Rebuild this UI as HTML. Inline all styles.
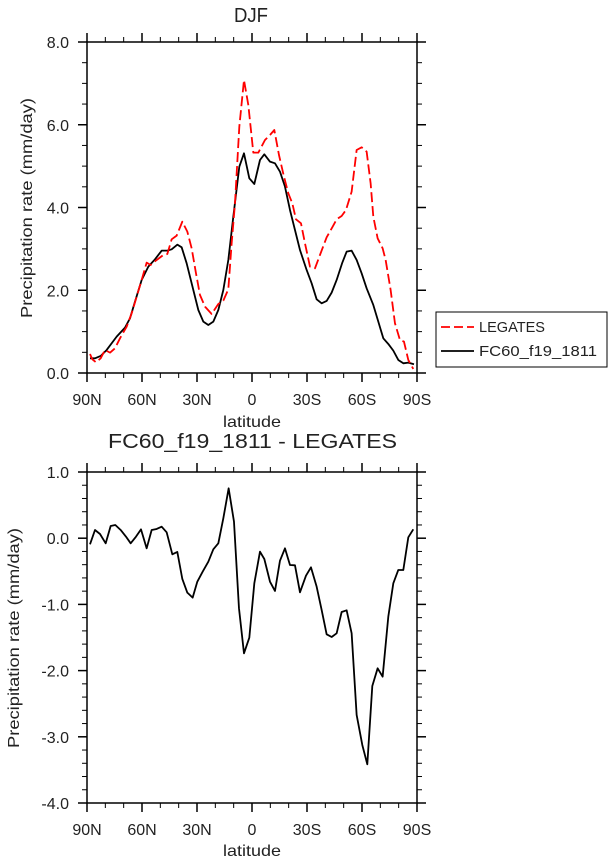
<!DOCTYPE html>
<html><head><meta charset="utf-8"><style>
body{margin:0;background:#fff}
svg{display:block}
text{font-family:"Liberation Sans",sans-serif;fill:#222}
</style></head><body>
<svg id="s" width="614" height="862" xmlns="http://www.w3.org/2000/svg">
<rect width="614" height="862" fill="#fff"/>
<text x="234" y="22" font-size="20" textLength="34" lengthAdjust="spacingAndGlyphs">DJF</text>
<text x="108" y="448" font-size="20" textLength="289" lengthAdjust="spacingAndGlyphs">FC60_f19_1811 - LEGATES</text>
<text x="223" y="427" font-size="16" textLength="58" lengthAdjust="spacingAndGlyphs">latitude</text>
<text x="223" y="856" font-size="16" textLength="58" lengthAdjust="spacingAndGlyphs">latitude</text>
<text transform="translate(32,208) rotate(-90)" font-size="16" text-anchor="middle" textLength="220" lengthAdjust="spacingAndGlyphs">Precipitation rate (mm/day)</text>
<text transform="translate(19,638) rotate(-90)" font-size="16" text-anchor="middle" textLength="220" lengthAdjust="spacingAndGlyphs">Precipitation rate (mm/day)</text>
<g id="ticks" stroke="#000" fill="none"></g>
<g transform="translate(80,30) scale(0.3333)" fill="none" stroke-width="5.4" stroke-linejoin="round">
<polyline stroke="#000" points="30,985 45,985 62,978 80,960 110,920 135,893 150,865 165,815 185,750 205,710 225,688 245,662 262,662 275,658 292,644 305,652 320,700 340,780 355,840 370,875 385,885 400,875 415,840 430,780 445,690 460,560 478,410 492,370 508,445 523,462 540,390 553,373 570,395 585,400 600,425 615,470 630,540 645,600 660,660 680,720 695,760 710,808 725,820 740,813 755,788 770,750 787,698 800,665 815,662 830,690 845,730 860,775 880,825 895,875 910,925 925,942 940,962 955,990 970,1000 985,998 1002,1003"/>
<polyline stroke="#f00" stroke-dasharray="30,12" points="30,972 37,988 48,997 62,985 75,960 90,968 105,955 120,925 140,890 155,850 170,800 185,750 200,698 212,705 230,690 250,675 262,672 275,628 290,617 307,575 322,605 335,655 348,730 360,795 375,830 395,852 415,822 430,812 445,778 455,640 465,520 478,290 492,150 505,225 520,368 535,368 555,330 570,315 583,300 597,375 612,440 625,490 637,520 648,568 663,580 675,640 690,710 705,715 720,675 740,622 758,590 770,568 785,558 798,540 815,485 830,360 845,352 860,365 872,460 880,560 893,625 908,655 917,690 932,780 945,880 960,930 972,935 985,990 1000,1017"/>
</g>
<g transform="translate(80,460) scale(0.3333)" fill="none" stroke-width="5.4" stroke-linejoin="round">
<polyline stroke="#000" points="30,253 45,210 60,222 77,250 92,198 106,195 122,210 138,230 152,250 168,230 183,208 200,265 215,210 230,207 245,200 260,217 277,283 292,276 307,357 322,398 338,413 352,365 368,335 385,305 400,268 415,250 430,175 446,85 462,185 477,445 492,580 508,533 523,370 540,275 553,297 570,365 585,393 600,302 615,265 630,315 645,316 660,397 678,347 693,322 710,380 725,450 740,523 755,531 770,520 785,456 800,451 815,520 830,765 847,855 862,913 877,678 893,625 908,650 925,470 940,370 955,330 970,330 985,232 1000,208"/>
</g>
<rect x="436" y="312" width="171" height="55" fill="none" stroke="#000" stroke-width="1"/>
<line x1="441" y1="327" x2="474" y2="327" stroke="#f00" stroke-width="1.8" stroke-dasharray="9,4"/>
<line x1="441" y1="351" x2="474" y2="351" stroke="#000" stroke-width="1.8"/>
<text x="479" y="332" font-size="15" textLength="66" lengthAdjust="spacingAndGlyphs">LEGATES</text>
<text x="479" y="356" font-size="15" textLength="118" lengthAdjust="spacingAndGlyphs">FC60_f19_1811</text>
<g id="lab" font-size="16"></g>
</svg>
<script>
var ns="http://www.w3.org/2000/svg",t=document.getElementById('ticks'),lb=document.getElementById('lab');
function L(a,b,c,d,w){var e=document.createElementNS(ns,'line');e.setAttribute('x1',a);e.setAttribute('y1',b);e.setAttribute('x2',c);e.setAttribute('y2',d);e.setAttribute('stroke-width',w||1);t.appendChild(e);}
function T(x,y,s,a){var e=document.createElementNS(ns,'text');e.setAttribute('x',x);e.setAttribute('y',y);e.setAttribute('text-anchor',a);e.textContent=s;lb.appendChild(e);}
var X0=87,X1=417,xl=['90N','60N','30N','0','30S','60S','90S'];
function panel(y0,y1,vmax,vmin,major,minor,ylab){
 var r=document.createElementNS(ns,'rect');r.setAttribute('x',X0);r.setAttribute('y',y0);r.setAttribute('width',X1-X0);r.setAttribute('height',y1-y0);r.setAttribute('stroke-width',1.5);t.appendChild(r);
 for(var i=0;i<=18;i++){var x=X0+(X1-X0)*i/18,m=i%3==0,l=m?9:5;L(x,y0,x,y0-l,m?1.5:1);L(x,y1,x,y1+l,m?1.5:1);if(m)T(x,ylab,xl[i/3],'middle');}
 var n=Math.round((vmax-vmin)/minor);
 for(var i=0;i<=n;i++){var v=vmax-i*minor,y=y0+(y1-y0)*i/n,m=Math.abs(v/major-Math.round(v/major))<1e-6,l=m?9:5;L(X0,y,X0-l,y,m?1.5:1);L(X1,y,X1+l,y,m?1.5:1);if(m)T(69,y+6,v.toFixed(1),'end');}
}
panel(42,373,8,0,2,0.5,405);
panel(472,803,1,-4,1,0.2,835);
</script>
</body></html>
